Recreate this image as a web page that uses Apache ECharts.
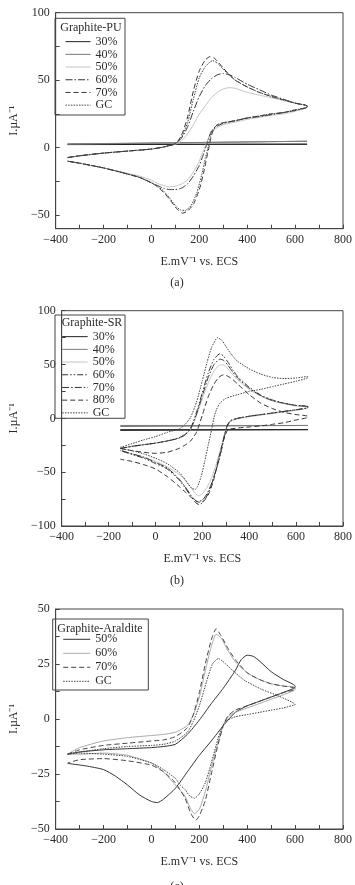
<!DOCTYPE html>
<html>
<head>
<meta charset="utf-8">
<script src="https://cdn.jsdelivr.net/npm/echarts@6/dist/echarts.min.js"></script>
<style>
  html, body { margin: 0; padding: 0; background: #fff; }
  #chart { width: 355px; height: 885px; }
</style>
</head>
<body>
<div id="chart"></div>
<script>
// tick positions and labels
const xTicks = [-400, -300, -200, -100, 0, 100, 200, 300, 400, 500, 600, 700, 800];
const xLabels = [-400, -200, 0, 200, 400, 600, 800];
const yTicksA = [-50, -25, 0, 25, 50, 75, 100];
const yLabelsA = [-50, 0, 50, 100];
const yTicksB = [-100, -75, -50, -25, 0, 25, 50, 75, 100];
const yLabelsB = [-100, -50, 0, 50, 100];
const yTicksC = [-50, -37.5, -25, -12.5, 0, 12.5, 25, 37.5, 50];
const yLabelsC = [-50, -25, 0, 25, 50];

// (a) Graphite-PU  [E mV, I uA], forward scan then return
const pu30 = [[-350,2.6],[650,2.6],[650,2.2],[-350,2.3]];
const pu40 = [[-350,2.8],[650,4.8],[650,4.2],[-350,2.6]];
const pu50 = [[-350,-7.3],[-300,-6],[-200,-4],[-100,-2.5],[0,-1],[50,0.5],[100,2.5],[125,5],[150,10],[175,17],[200,25],[225,31],[250,37],[275,41],[300,43.5],[325,44.5],[350,44],[375,42.5],[400,41],[450,39],[500,37],[550,35],[600,33],[650,31],
  [650,30],[600,27],[550,25],[500,24],[450,22.5],[400,21],[350,19],[300,17],[275,15],[250,11],[235,6],[225,1],[210,-5],[200,-10],[175,-18],[150,-24],[125,-27],[100,-28.5],[75,-29],[50,-28],[25,-26.5],[0,-24],[-50,-21],[-100,-19],[-200,-15],[-300,-11.5],[-350,-10]];
const pu60 = [[-350,-7.3],[-300,-6],[-200,-4],[-100,-2.5],[0,-1],[50,0.5],[100,3],[125,7],[150,15],[175,27],[200,38],[225,46],[250,51],[275,54],[300,55],[325,54],[350,52],[400,47],[450,43],[500,39],[550,36],[600,33],[650,31],
  [650,30],[600,27.5],[550,26],[500,24.5],[450,23],[400,22],[350,20],[300,18],[275,16],[250,12],[237,6],[228,1],[215,-6],[200,-13],[175,-21],[150,-27],[125,-30],[100,-31],[75,-31],[50,-30],[25,-28],[0,-26],[-50,-22],[-100,-19.5],[-200,-15],[-300,-11.5],[-350,-10]];
const pu70 = [[-350,-7.3],[-300,-6],[-200,-4],[-100,-2.5],[0,-1],[50,0.5],[100,3],[125,9],[150,22],[175,42],[200,57],[225,65],[245,67.5],[265,66],[300,59],[325,54],[350,50],[400,45],[450,41],[500,38],[550,35.5],[600,33],[650,31],
  [650,30],[600,28],[550,26],[500,25],[450,23.5],[400,22],[350,20],[300,18.5],[275,17],[260,14],[248,7],[240,0],[230,-8],[220,-17],[200,-31],[175,-42],[150,-47],[130,-48.5],[110,-46],[100,-44],[75,-38],[50,-33],[25,-29],[0,-26],[-50,-22],[-100,-19.5],[-200,-15],[-300,-11.5],[-350,-10]];
const puGC = [[-350,-7.3],[-300,-6],[-200,-4],[-100,-2.5],[0,-1],[50,0.5],[100,3],[125,8],[150,18],[175,36],[200,52],[225,60],[255,64.5],[280,62],[300,58],[325,54],[350,50],[400,45],[450,41],[500,38],[550,35.5],[600,33],[650,31],
  [650,30],[600,28],[550,26],[500,25],[450,23.5],[400,22],[350,20],[300,18.5],[275,17],[255,13],[243,6],[235,-1],[225,-8],[210,-20],[190,-33],[165,-43],[140,-46.5],[120,-46],[100,-43],[75,-37],[50,-32],[25,-28.5],[0,-26],[-50,-22],[-100,-19.5],[-200,-15],[-300,-11.5],[-350,-10]];

// (b) Graphite-SR
const sr30 = [[-150,-10.5],[650,-10.5],[650,-11.2],[-150,-11.2]];
const sr40 = [[-150,-6.6],[650,-6.6],[650,-7.6],[-150,-7.6]];
const sr50 = [[-150,-28],[-100,-26],[-50,-24.5],[0,-23],[50,-21],[100,-18.5],[125,-16],[150,-10],[165,-3],[180,6],[200,18],[225,33],[250,44],[270,49],[285,50],[300,48],[320,43],[350,36],[400,27],[450,20.5],[500,16],[550,13.5],[600,11.5],[650,10.5],
  [650,9.5],[600,7.5],[550,6],[500,4.5],[450,3],[400,1.5],[350,-0.5],[320,-3],[305,-7],[295,-14],[280,-27],[260,-42],[240,-55],[220,-64],[200,-70],[185,-72],[170,-70],[150,-64],[125,-57],[100,-52],[50,-45],[0,-40],[-50,-36],[-100,-33],[-150,-30]];
const sr60 = [[-150,-28],[-100,-26],[-50,-24.5],[0,-23],[50,-21],[100,-18],[125,-15],[150,-9],[165,-1],[180,9],[200,24],[225,42],[250,55],[275,60],[290,58],[310,52],[330,45],[350,39],[400,29],[450,21.5],[500,17],[550,14],[600,12],[650,11],
  [650,10],[600,8],[550,6.5],[500,5],[450,3.5],[400,2],[350,0],[320,-2],[305,-7],[295,-15],[280,-30],[260,-47],[240,-61],[220,-72],[200,-78.5],[185,-80],[170,-78],[150,-72],[125,-64],[100,-57],[50,-47],[0,-42],[-50,-37],[-100,-33.5],[-150,-30]];
const sr70 = [[-150,-28],[-100,-26],[-50,-24.5],[0,-23],[50,-21],[100,-18.5],[125,-15.5],[150,-10],[165,-2],[180,7],[200,21],[225,38],[250,50],[275,55],[290,54],[310,49],[330,43],[350,37.5],[400,28],[450,21],[500,16.5],[550,14],[600,12],[650,11],
  [650,10],[600,8],[550,6.5],[500,5],[450,3.5],[400,2],[350,0],[320,-2.5],[305,-8],[295,-16],[280,-31],[260,-47],[240,-60],[220,-70],[200,-76],[180,-77.5],[165,-75],[150,-71],[125,-63],[100,-56],[50,-46],[0,-41],[-50,-36],[-100,-33],[-150,-29.5]];
const sr80 = [[-150,-28],[-100,-30],[-50,-31.5],[0,-32.5],[50,-31.5],[100,-28],[125,-25],[150,-21],[175,-13],[200,3],[225,20],[250,32],[270,38],[290,40.5],[310,39],[330,36],[350,32],[400,22],[450,14],[500,9],[550,5.5],[600,3.5],[650,2],
  [650,1],[600,-1.5],[550,-4],[500,-5.5],[450,-7],[400,-8],[350,-9],[310,-10.5],[295,-17],[285,-24],[270,-37],[250,-56],[230,-69],[210,-76],[190,-78],[175,-77],[150,-73],[125,-68],[100,-63],[50,-54],[0,-47],[-50,-43],[-100,-40],[-150,-38]];
const srGC = [[-150,-27],[-100,-23.5],[-50,-20],[0,-17],[50,-13],[100,-10],[125,-6],[150,1],[175,15],[200,35],[220,52],[240,66],[265,75],[285,72],[300,67],[325,59],[350,53],[400,46],[450,41],[500,38],[550,37],[600,37.5],[650,39],
  [650,38],[600,34.5],[550,32],[500,29.5],[450,27],[400,25],[350,22],[300,18.5],[275,14],[260,8],[250,1],[240,-10],[225,-25],[210,-40],[195,-54],[180,-63],[170,-66],[155,-65],[140,-61],[120,-55],[100,-50],[50,-42],[0,-37],[-50,-33],[-100,-30],[-150,-28]];

// (c) Graphite-Araldite
const ar50 = [[-350,-16],[-300,-15],[-200,-14],[-100,-13.5],[0,-13],[50,-12.5],[100,-11.5],[150,-7],[200,-0.5],[250,7],[300,14],[350,22],[375,27],[400,29],[425,28.5],[450,26.5],[500,21.5],[550,18],[600,15],
  [600,14.5],[550,12],[500,10],[450,8],[400,6],[350,3],[300,-3],[250,-10],[200,-16.5],[150,-24],[100,-31.5],[50,-36.5],[25,-38],[0,-37.5],[-50,-34.5],[-100,-30],[-150,-26],[-200,-23],[-275,-21.3],[-350,-20.2]];
const ar60 = [[-350,-16],[-300,-13],[-200,-10],[-100,-8.5],[0,-7.5],[50,-7],[100,-6],[150,-3],[175,2],[200,10],[225,22],[250,33],[270,38.5],[290,37],[320,31],[350,26],[400,21],[450,18],[500,16],[550,15],[600,14.5],
  [600,13.5],[550,11],[500,9],[450,7],[400,5],[350,3],[320,1],[300,-3],[275,-12],[250,-22],[225,-33],[200,-41],[180,-43],[160,-40],[140,-35],[100,-30],[50,-24],[0,-20],[-100,-16.5],[-200,-15.5],[-300,-16],[-350,-16]];
const ar70 = [[-350,-16],[-300,-14],[-200,-12],[-100,-11],[0,-10],[50,-9.5],[100,-8],[150,-4],[175,2],[200,12],[225,25],[250,36],[270,41],[290,38],[320,32],[350,27],[400,21],[450,18],[500,16],[550,15],[600,14],
  [600,13.5],[550,12],[500,10],[450,8],[400,6],[350,4],[320,1.5],[300,-3],[275,-13],[250,-25],[225,-37],[200,-44],[185,-46],[165,-43],[140,-36],[100,-29],[50,-24],[0,-21],[-100,-19],[-200,-18],[-300,-18.5],[-350,-20]];
const arGC = [[-350,-16],[-300,-15],[-200,-13.5],[-100,-12.5],[0,-12],[50,-11.5],[100,-10],[150,-6],[175,-1],[200,6],[230,17],[255,25],[280,27.5],[300,26],[340,22],[390,17.5],[460,13.5],[530,10.5],[600,6.5],
  [600,6.2],[550,5],[500,4],[450,3],[400,2],[350,1],[310,-1],[290,-5],[270,-12],[250,-20],[225,-29],[200,-34],[180,-36],[160,-35],[140,-32],[120,-30],[100,-27],[50,-23],[0,-20],[-100,-17],[-200,-16],[-300,-15.5],[-350,-16]];

const font = 'Liberation Serif';
const ink = '#2b2b2b';
const minus = v => String(v).replace('-', '\u2212');

function xAx(i) {
  return {
    type: 'value', gridIndex: i, min: -400, max: 800,
    axisLine: { onZero: false, lineStyle: { color: '#444' } },
    axisTick: { inside: true, length: 4, customValues: xTicks, lineStyle: { color: '#444' } },
    axisLabel: { customValues: xLabels, formatter: minus, fontFamily: font, fontSize: 12, color: ink, margin: 5 },
    splitLine: { show: false },
    name: 'E.mV\u207B\u00B9 vs. ECS', nameLocation: 'middle', nameGap: 27,
    nameTextStyle: { fontFamily: font, fontSize: 12, color: ink }
  };
}
function yAx(i, min, max, ticks, labels) {
  return {
    type: 'value', gridIndex: i, min: min, max: max,
    axisLine: { show: true, onZero: false, lineStyle: { color: '#444' } },
    axisTick: { show: true, inside: true, length: 4, customValues: ticks, lineStyle: { color: '#444' } },
    axisLabel: { customValues: labels, formatter: minus, fontFamily: font, fontSize: 12, color: ink, margin: 6 },
    splitLine: { show: false },
    name: 'I.\u00B5A\u207B\u00B9', nameLocation: 'middle', nameGap: 35,
    nameTextStyle: { fontFamily: font, fontSize: 12, color: ink }
  };
}
function ser(name, data, i, color, type, smooth) {
  return {
    name: name, type: 'line', data: data, xAxisIndex: i, yAxisIndex: i,
    symbol: 'none', smooth: smooth === false ? false : 0.2,
    lineStyle: { color: color, width: 1, type: type }, itemStyle: { color: color }
  };
}
function leg(names, left, top, lh, w) {
  return {
    data: names, orient: 'vertical', left: left, top: top, padding: 0,
    itemWidth: w, itemHeight: 8, itemGap: 0,
    itemStyle: { opacity: 0 },
    lineStyle: { width: 1 },
    formatter: n => n.split(' ')[1],
    textStyle: { fontFamily: font, fontSize: 12, color: ink, lineHeight: lh }
  };
}

const dashDot = [7, 2, 1.5, 2];
const dashDotDot = [6, 2, 1.5, 2, 1.5, 2];
const dashed = [5, 3];
const dotted = [1.5, 1.2];

const chart = echarts.init(document.getElementById('chart'));
chart.setOption({
  animation: false,
  backgroundColor: '#fff',
  grid: [
    { left: 47.7, top: 12.7, width: 297.3, height: 216, show: true, borderColor: '#444', borderWidth: 1 },
    { left: 47.7, top: 310.7, width: 297.3, height: 215.3, show: true, borderColor: '#444', borderWidth: 1 },
    { left: 46.7, top: 609, width: 298.5, height: 220, show: true, borderColor: '#444', borderWidth: 1 }
  ],
  xAxis: [xAx(0), xAx(1), xAx(2)],
  yAxis: [
    yAx(0, -60, 100, yTicksA, yLabelsA),
    yAx(1, -100, 100, yTicksB, yLabelsB),
    yAx(2, -50, 50, yTicksC, yLabelsC)
  ],
  legend: [
    leg(['PU 30%', 'PU 40%', 'PU 50%', 'PU 60%', 'PU 70%', 'PU GC'], 65, 35.3, 12.7, 25),
    leg(['SR 30%', 'SR 40%', 'SR 50%', 'SR 60%', 'SR 70%', 'SR 80%', 'SR GC'], 61.7, 330.3, 12.7, 25.5),
    leg(['Ar 50%', 'Ar 60%', 'Ar 70%', 'Ar GC'], 62.7, 632.3, 14, 27)
  ],
  graphic: [
    { type: 'rect', shape: { x: 55, y: 18.3, width: 70, height: 96.7 }, style: { fill: 'none', stroke: '#444', lineWidth: 1 }, z: 10 },
    { type: 'text', x: 91, y: 28, style: { text: 'Graphite-PU', font: '12px "Liberation Serif"', fill: ink, align: 'center', verticalAlign: 'middle' }, z: 10 },
    { type: 'rect', shape: { x: 55, y: 315, width: 70, height: 103.3 }, style: { fill: 'none', stroke: '#444', lineWidth: 1 }, z: 10 },
    { type: 'text', x: 92, y: 322.7, style: { text: 'Graphite-SR', font: '12px "Liberation Serif"', fill: ink, align: 'center', verticalAlign: 'middle' }, z: 10 },
    { type: 'rect', shape: { x: 52.7, y: 619, width: 95.6, height: 71 }, style: { fill: 'none', stroke: '#444', lineWidth: 1 }, z: 10 },
    { type: 'text', x: 100, y: 629, style: { text: 'Graphite-Araldite', font: '12px "Liberation Serif"', fill: ink, align: 'center', verticalAlign: 'middle' }, z: 10 },
    { type: 'text', x: 177, y: 283, style: { text: '(a)', font: '12px "Liberation Serif"', fill: ink, align: 'center', verticalAlign: 'middle' } },
    { type: 'text', x: 177, y: 580.7, style: { text: '(b)', font: '12px "Liberation Serif"', fill: ink, align: 'center', verticalAlign: 'middle' } },
    { type: 'text', x: 177, y: 887, style: { text: '(c)', font: '12px "Liberation Serif"', fill: ink, align: 'center', verticalAlign: 'middle' } }
  ],
  series: [
    ser('PU 30%', pu30, 0, '#222', 'solid', false),
    ser('PU 40%', pu40, 0, '#7a7a7a', 'solid', false),
    ser('PU 50%', pu50, 0, '#c4c4c4', 'solid'),
    ser('PU 60%', pu60, 0, '#333', dashDot),
    ser('PU 70%', pu70, 0, '#333', dashed),
    ser('PU GC', puGC, 0, '#444', dotted),

    ser('SR 30%', sr30, 1, '#222', 'solid', false),
    ser('SR 40%', sr40, 1, '#7a7a7a', 'solid', false),
    ser('SR 50%', sr50, 1, '#c4c4c4', 'solid'),
    ser('SR 60%', sr60, 1, '#333', dashDotDot),
    ser('SR 70%', sr70, 1, '#333', dashDot),
    ser('SR 80%', sr80, 1, '#333', dashed),
    ser('SR GC', srGC, 1, '#444', dotted),

    ser('Ar 50%', ar50, 2, '#333', 'solid'),
    ser('Ar 60%', ar60, 2, '#aaa', 'solid'),
    ser('Ar 70%', ar70, 2, '#444', dashed),
    ser('Ar GC', arGC, 2, '#444', dotted)
  ]
});
</script>
</body>
</html>
